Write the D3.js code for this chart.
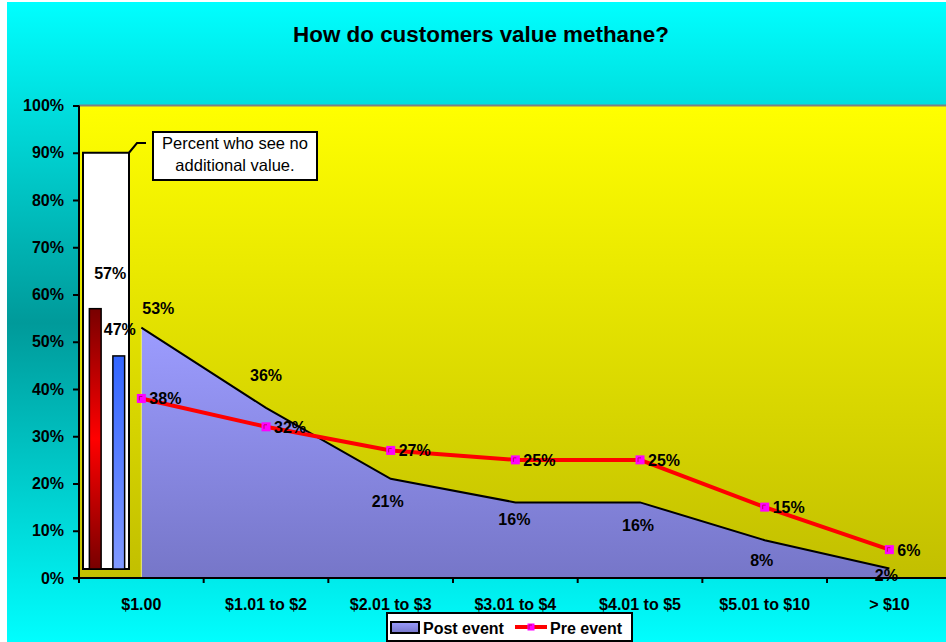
<!DOCTYPE html>
<html>
<head>
<meta charset="utf-8">
<script src="https://cdn.jsdelivr.net/npm/d3@7"></script>
<style>
  body { margin: 0; background: #fff; }
  svg { display: block; font-family: Arial, 'Liberation Sans', sans-serif; }
</style>
</head>
<body>
<div id="app"></div>
<script>
// data
const categories = ['$1.00', '$1.01 to $2', '$2.01 to $3', '$3.01 to $4', '$4.01 to $5', '$5.01 to $10', '> $10'];
const postEvent = [53, 36, 21, 16, 16, 8, 2];
const preEvent = [38, 32, 27, 25, 25, 15, 6];
const noValueSeries = ['Post event', 'Pre event'];
const noValue = [57, 47];
const yTicks = [0, 10, 20, 30, 40, 50, 60, 70, 80, 90, 100];

// label nudges (layout only)
const postLabelDx = [17, 0, -3, -1, -2, -3, -3];
const postLabelDy = [-20, -33, 22, 17, 23, 20, 6];
const barLabelDx = [15, 1];
const barLabelDy = [-36, -27];

const W = 946, H = 642;
const svg = d3.select('#app').append('svg').attr('width', W).attr('height', H);
const defs = svg.append('defs');

function grad(id, stops, x2, y2) {
  const g = defs.append('linearGradient').attr('id', id)
    .attr('x1', 0).attr('y1', 0).attr('x2', x2).attr('y2', y2);
  stops.forEach(s => g.append('stop').attr('offset', s[0]).attr('stop-color', s[1]));
}
grad('bgGrad', [[0, '#00ffff'], [0.5, '#009a9a'], [1, '#00ffff']], 0, 1);
grad('plotGrad', [[0, '#ffff00'], [1, '#c2bf00']], 0, 1);
grad('areaGrad', [[0, '#9c9cff'], [1, '#7676c8']], 0, 1);
grad('redGrad', [[0, '#780000'], [0.5, '#ff0000'], [1, '#780000']], 0, 1);
grad('blueGrad', [[0, '#3366ff'], [1, '#8099ff']], 0, 1);

// outer background
svg.append('rect').attr('x', 7).attr('y', 2).attr('width', W).attr('height', H)
  .attr('fill', 'url(#bgGrad)');

// title
svg.append('text').attr('x', 481).attr('y', 42).attr('text-anchor', 'middle')
  .attr('font-size', '22.4px').attr('font-weight', 'bold').attr('fill', '#000')
  .text('How do customers value methane?');

const pL = 79, pR = 951.7, pT = 105.5, pB = 578;
const x = d3.scaleBand().domain(categories).range([pL, pR]);
const y = d3.scaleLinear().domain([0, 100]).range([pB, pT]);
const cx = c => x(c) + x.bandwidth() / 2;

// plot area
svg.append('rect').attr('x', pL).attr('y', pT).attr('width', pR - pL).attr('height', pB - pT)
  .attr('fill', 'url(#plotGrad)');
svg.append('line').attr('x1', pL).attr('x2', pR).attr('y1', pT).attr('y2', pT)
  .attr('stroke', '#808080').attr('stroke-width', 2);

// post event area
const area = d3.area().x((d, i) => cx(categories[i])).y0(y(0)).y1(d => y(d));
const line = d3.line().x((d, i) => cx(categories[i])).y(d => y(d));
svg.append('path').attr('d', area(postEvent)).attr('fill', 'url(#areaGrad)');
svg.append('line').attr('x1', cx(categories[0])).attr('x2', cx(categories[0]))
  .attr('y1', y(0)).attr('y2', y(postEvent[0])).attr('stroke', '#eeee70').attr('stroke-width', 1);
svg.append('path').attr('d', line(postEvent)).attr('fill', 'none')
  .attr('stroke', '#000').attr('stroke-width', 2);

// box with "no additional value" bars
const boxL = 83, boxR = 129, boxB = y(0) - 9;
svg.append('rect').attr('x', boxL).attr('y', y(90)).attr('width', boxR - boxL).attr('height', boxB - y(90))
  .attr('fill', '#fff').attr('stroke', '#000').attr('stroke-width', 2);
const xb = d3.scaleBand().domain(noValueSeries).range([87, 127]).paddingInner(0.5).paddingOuter(0.1);
svg.selectAll('.nv').data(noValue).enter().append('rect')
  .attr('x', (d, i) => xb(noValueSeries[i]))
  .attr('y', d => y(d))
  .attr('width', xb.bandwidth())
  .attr('height', d => boxB - y(d))
  .attr('fill', (d, i) => i === 0 ? 'url(#redGrad)' : 'url(#blueGrad)')
  .attr('stroke', '#000').attr('stroke-width', 1.5);
svg.selectAll('.nvl').data(noValue).enter().append('text')
  .attr('x', (d, i) => xb(noValueSeries[i]) + xb.bandwidth() / 2 + barLabelDx[i])
  .attr('y', (d, i) => y(d) + barLabelDy[i] + 6)
  .attr('text-anchor', 'middle').attr('font-size', '16px').attr('font-weight', 'bold')
  .text(d => d + '%');

// callout
svg.append('polyline').attr('points', [[boxR, y(90)], [137, 143], [146, 143]].join(' '))
  .attr('fill', 'none').attr('stroke', '#000').attr('stroke-width', 2);
svg.append('rect').attr('x', 153).attr('y', 132).attr('width', 164).attr('height', 48)
  .attr('fill', '#fff').attr('stroke', '#000').attr('stroke-width', 2);
const callout = svg.append('text').attr('text-anchor', 'middle').attr('font-size', '16.5px');
callout.append('tspan').attr('x', 235).attr('y', 149).text('Percent who see no');
callout.append('tspan').attr('x', 235).attr('y', 171).text('additional value.');

// pre event line and markers
svg.append('path').attr('d', line(preEvent)).attr('fill', 'none')
  .attr('stroke', '#ff0000').attr('stroke-width', 4).attr('stroke-linejoin', 'round');
function marker(g, px, py, s) {
  g.append('rect').attr('x', px - s / 2).attr('y', py - s / 2).attr('width', s).attr('height', s)
    .attr('fill', '#ff00ff');
  g.append('path').attr('d', `M${px - 2},${py + 2}V${py - 2}H${px + 1}`)
    .attr('fill', 'none').attr('stroke', '#c0006a').attr('stroke-width', 1);
}
const mk = svg.append('g');
preEvent.forEach((d, i) => marker(mk, cx(categories[i]), y(d), 9));

// data labels
svg.selectAll('.postl').data(postEvent).enter().append('text')
  .attr('x', (d, i) => cx(categories[i]) + postLabelDx[i])
  .attr('y', (d, i) => y(d) + postLabelDy[i] + 6)
  .attr('text-anchor', 'middle').attr('font-size', '16px').attr('font-weight', 'bold')
  .text(d => d + '%');
svg.selectAll('.prel').data(preEvent).enter().append('text')
  .attr('x', (d, i) => cx(categories[i]) + 8)
  .attr('y', d => y(d) + 6)
  .attr('font-size', '16px').attr('font-weight', 'bold')
  .text(d => d + '%');

// axes
const yAxis = svg.append('g').attr('transform', `translate(${pL},0)`)
  .call(d3.axisLeft(y).tickValues(yTicks).tickFormat(d => d + '%').tickSize(6).tickPadding(9));
yAxis.select('.domain').remove();
yAxis.selectAll('line').attr('stroke', '#000').attr('stroke-width', 2);
yAxis.selectAll('text').attr('font-size', '16px').attr('font-weight', 'bold')
  .attr('font-family', "Arial, 'Liberation Sans', sans-serif").attr('fill', '#000');
svg.append('line').attr('x1', pL).attr('x2', pL).attr('y1', pT).attr('y2', pB + 5)
  .attr('stroke', '#000').attr('stroke-width', 2);

const xAxis = svg.append('g').attr('transform', `translate(0,${pB})`)
  .call(d3.axisBottom(x).tickSize(0).tickPadding(21));
xAxis.select('.domain').remove();
xAxis.selectAll('text').attr('font-size', '16px').attr('font-weight', 'bold')
  .attr('font-family', "Arial, 'Liberation Sans', sans-serif").attr('fill', '#000');
svg.append('g').selectAll('line').data(categories).enter().append('line')
  .attr('x1', d => x(d)).attr('x2', d => x(d)).attr('y1', pB).attr('y2', pB + 5)
  .attr('stroke', '#000').attr('stroke-width', 2);
svg.append('line').attr('x1', pL - 6).attr('x2', pR).attr('y1', pB).attr('y2', pB)
  .attr('stroke', '#000').attr('stroke-width', 2);

// legend
const lg = svg.append('g');
lg.append('rect').attr('x', 387).attr('y', 613).attr('width', 245).attr('height', 28)
  .attr('fill', '#fff').attr('stroke', '#000').attr('stroke-width', 2);
lg.append('rect').attr('x', 391).attr('y', 622).attr('width', 28).attr('height', 11)
  .attr('fill', 'url(#areaGrad)').attr('stroke', '#000').attr('stroke-width', 2);
lg.append('text').attr('x', 423).attr('y', 634).attr('font-size', '16px').attr('font-weight', 'bold')
  .text(noValueSeries[0]);
lg.append('line').attr('x1', 515).attr('x2', 547).attr('y1', 627).attr('y2', 627)
  .attr('stroke', '#ff0000').attr('stroke-width', 4);
marker(lg, 531, 627, 7);
lg.append('text').attr('x', 550).attr('y', 634).attr('font-size', '16px').attr('font-weight', 'bold')
  .text(noValueSeries[1]);
</script>
</body>
</html>
